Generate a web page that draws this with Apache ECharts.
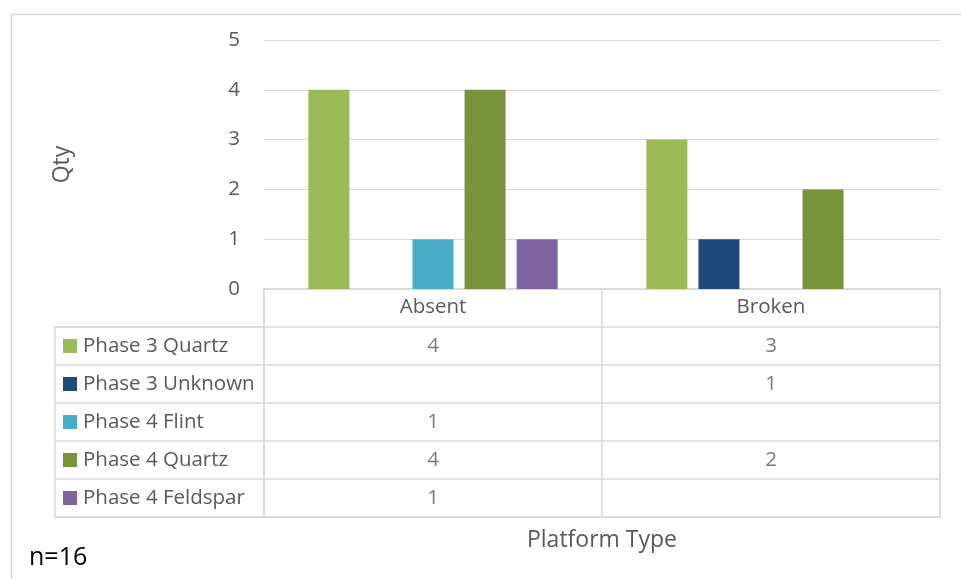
<!DOCTYPE html>
<html>
<head>
<meta charset="utf-8">
<script src="https://cdn.jsdelivr.net/npm/echarts@6/dist/echarts.min.js"></script>
<style>
html,body{margin:0;padding:0;background:#fff;}
#chart{width:961px;height:579px;}
</style>
</head>
<body>
<div id="chart"></div>
<script>
const categories = ['Absent', 'Broken'];
const seriesNames = ['Phase 3 Quartz', 'Phase 3 Unknown', 'Phase 4 Flint', 'Phase 4 Quartz', 'Phase 4 Feldspar'];
const phase3Quartz = [4, 3];
const phase3Unknown = [null, 1];
const phase4Flint = [1, null];
const phase4Quartz = [4, 2];
const phase4Feldspar = [1, null];
const seriesColors = ['#9BBB59', '#1F497D', '#4BACC6', '#77933C', '#8064A2'];
const yMin = 0, yMax = 5, yStep = 1;
const yTitle = 'Qty';
const xTitle = 'Platform Type';
const note = 'n=16';

const seriesValues = [phase3Quartz, phase3Unknown, phase4Flint, phase4Quartz, phase4Feldspar];
const FONT = 'Open Sans';
const FS = 20.5;
const TXT = '#595959';
const LINE = '#d9d9d9';

const chart = echarts.init(document.getElementById('chart'), null, {renderer: 'canvas'});

const barSeries = seriesNames.map((name, i) => ({
  name: name,
  type: 'bar',
  xAxisIndex: 0,
  yAxisIndex: 0,
  data: seriesValues[i],
  barWidth: 41,
  barGap: '27%',
  itemStyle: {color: seriesColors[i]},
  emphasis: {disabled: true}
}));

const tableRows = [''].concat(seriesNames);
const cellData = [];
seriesValues.forEach((vals, s) => {
  vals.forEach((v, c) => {
    if (v !== null && v !== undefined) cellData.push([categories[c], seriesNames[s], v]);
  });
});

const rich = {};
seriesColors.forEach((c, i) => {
  rich['m' + i] = {width: 14, height: 14, backgroundColor: c};
});
rich.t = {fontFamily: FONT, fontSize: FS, color: TXT, padding: [0, 0, 0, 6]};

const option = {
  backgroundColor: '#fff',
  animation: false,
  graphic: [
    {type: 'rect', left: 9, top: 12, shape: {width: 1200, height: 900}, style: {fill: 'none', stroke: LINE, lineWidth: 1.5}, z: -10, silent: true},
    {type: 'text', left: 29, top: 545, style: {text: note, font: '25px "Open Sans"', fill: '#000'}}
  ],
  grid: [
    {left: 264, right: 21, top: 40, bottom: 290},
    {left: 264, right: 21, top: 289, height: 228, show: true, borderColor: LINE, borderWidth: 1.5, backgroundColor: 'transparent'},
    {left: 55, width: 209, top: 327, height: 190, show: true, borderColor: LINE, borderWidth: 1.5, backgroundColor: 'transparent'}
  ],
  xAxis: [
    {gridIndex: 0, type: 'category', data: categories,
     axisLine: {show: true, lineStyle: {color: LINE}}, axisTick: {show: false},
     axisLabel: {fontFamily: FONT, fontSize: FS, color: TXT, margin: 8}},
    {gridIndex: 1, type: 'category', data: categories,
     axisLine: {show: false}, axisTick: {show: false}, axisLabel: {show: false},
     splitLine: {show: true, interval: 0, lineStyle: {color: LINE, width: 1.5}},
     name: xTitle, nameLocation: 'middle', nameGap: 12,
     nameTextStyle: {fontFamily: FONT, fontSize: 23, color: TXT, verticalAlign: 'top'}},
    {gridIndex: 2, type: 'category', data: [''],
     axisLine: {show: false}, axisTick: {show: false}, axisLabel: {show: false}, splitLine: {show: false}}
  ],
  yAxis: [
    {gridIndex: 0, type: 'value', min: yMin, max: yMax, interval: yStep,
     axisLine: {show: false}, axisTick: {show: false},
     splitLine: {show: true, lineStyle: {color: LINE, width: 1}},
     axisLabel: {fontFamily: FONT, fontSize: FS, color: TXT, margin: 24},
     name: yTitle, nameLocation: 'middle', nameGap: 190,
     nameTextStyle: {fontFamily: FONT, fontSize: 23, color: TXT}},
    {gridIndex: 1, type: 'category', data: tableRows, inverse: true,
     axisLine: {show: false}, axisTick: {show: false}, axisLabel: {show: false},
     splitLine: {show: true, interval: 0, lineStyle: {color: LINE, width: 1.5}}},
    {gridIndex: 2, type: 'category', data: seriesNames, inverse: true,
     axisLine: {show: false}, axisTick: {show: false},
     splitLine: {show: true, interval: 0, lineStyle: {color: LINE, width: 1.5}},
     axisLabel: {inside: true, interval: 0, margin: 8, align: 'left',
       formatter: (val, idx) => '{m' + idx + '|}{t|' + val + '}', rich: rich}}
  ],
  series: barSeries.concat([
    {type: 'scatter', xAxisIndex: 1, yAxisIndex: 1, data: cellData, symbolSize: 0,
     label: {show: true, position: 'inside', formatter: p => String(p.value[2]),
       fontFamily: FONT, fontSize: FS, color: TXT},
     emphasis: {disabled: true}, silent: true}
  ])
};
chart.setOption(option);
</script>
</body>
</html>
